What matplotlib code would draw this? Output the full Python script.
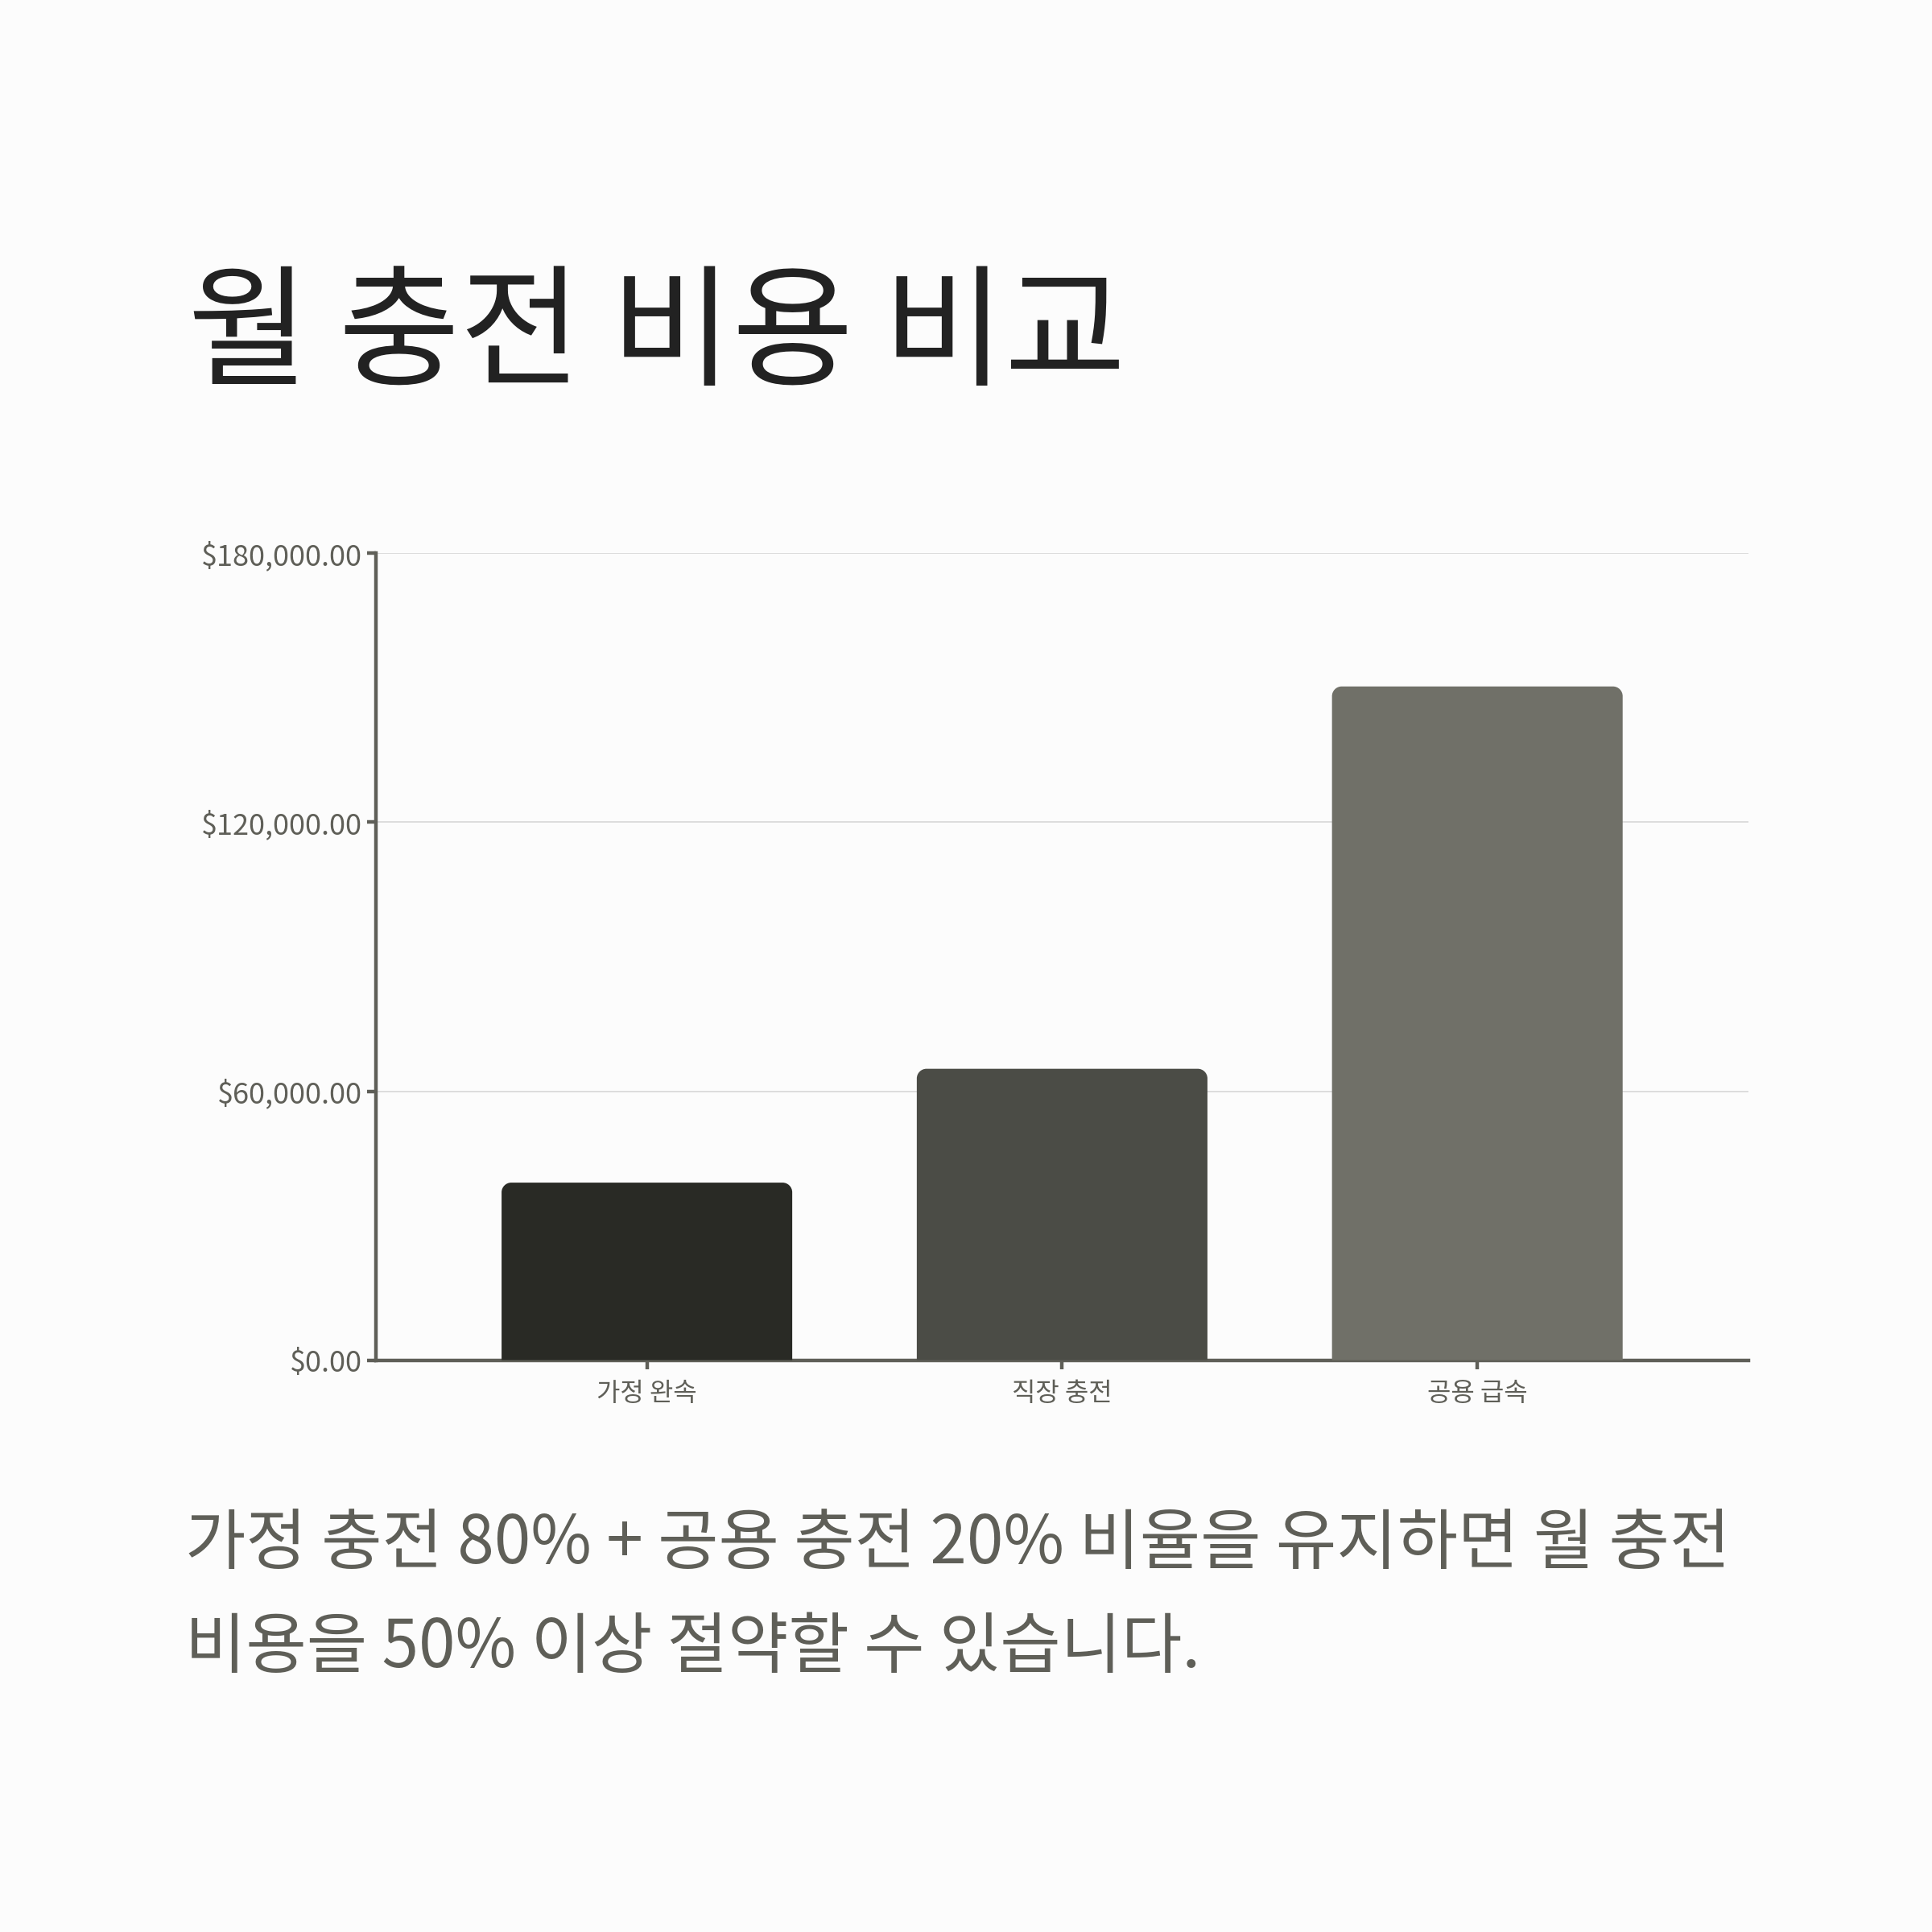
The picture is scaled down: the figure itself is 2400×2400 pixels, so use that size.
import matplotlib
matplotlib.use("Agg")
import matplotlib.pyplot as plt
from matplotlib.patches import PathPatch
from matplotlib.path import Path
from matplotlib.ticker import FuncFormatter

plt.rcParams['font.family'] = ['Noto Sans CJK KR', 'DejaVu Sans']

# data
categories = ['가정 완속', '직장 충전', '공용 급속']
costs = [39600, 65000, 150300]
bar_colors = ['#292a25', '#4b4c46', '#707068']
y_ticks = [0, 60000, 120000, 180000]

title = '월 충전 비용 비교'
note_lines = ['가정 충전 80% + 공용 충전 20% 비율을 유지하면 월 충전',
              '비용을 50% 이상 절약할 수 있습니다.']

BG = '#fcfcfc'
AXIS = '#5f5f58'
TEXT = '#5f5f58'

fig = plt.figure(figsize=(12, 12), dpi=200, facecolor=BG)
ax = fig.add_axes([0.1945, 0.296, 0.7105, 0.4176], facecolor=BG)

bars = ax.bar(range(len(categories)), costs, width=0.7, color=bar_colors, zorder=3)
ax.set_xlim(-0.653, 2.653)
ax.set_ylim(0, 180000)


def rounded_top(rect, rad_px=12):
    # replace a plain bar by one with rounded top corners
    x0, w, h = rect.get_x(), rect.get_width(), rect.get_height()
    inv = ax.transData.inverted()
    p0 = inv.transform((0, 0))
    p1 = inv.transform((rad_px, rad_px))
    rx, ry = p1[0] - p0[0], p1[1] - p0[1]
    k = 0.55
    verts = [(x0, 0), (x0, h - ry),
             (x0, h - ry + k * ry), (x0 + rx - k * rx, h), (x0 + rx, h),
             (x0 + w - rx, h),
             (x0 + w - rx + k * rx, h), (x0 + w, h - ry + k * ry), (x0 + w, h - ry),
             (x0 + w, 0), (x0, 0)]
    codes = [Path.MOVETO, Path.LINETO,
             Path.CURVE4, Path.CURVE4, Path.CURVE4,
             Path.LINETO,
             Path.CURVE4, Path.CURVE4, Path.CURVE4,
             Path.LINETO, Path.CLOSEPOLY]
    return PathPatch(Path(verts, codes), facecolor=rect.get_facecolor(),
                     edgecolor='none', zorder=3)


for rect in bars:
    rect.set_visible(False)
    ax.add_patch(rounded_top(rect))

ax.set_yticks(y_ticks)
ax.yaxis.set_major_formatter(FuncFormatter(lambda v, _: f'${v:,.2f}'))
ax.set_xticks(range(len(categories)))
ax.set_xticklabels(categories)

ax.grid(axis='y', color='#dddddd', linewidth=0.7, zorder=0)
ax.set_axisbelow(True)

for side in ['top', 'right']:
    ax.spines[side].set_visible(False)
for side in ['left', 'bottom']:
    ax.spines[side].set_color(AXIS)
    ax.spines[side].set_linewidth(1.6)

ax.tick_params(axis='y', colors=AXIS, labelcolor=TEXT, labelsize=13,
               length=4, width=1.6, pad=2)
ax.tick_params(axis='x', colors=AXIS, labelcolor=TEXT, labelsize=11.5,
               length=4, width=1.6, pad=5)

fig.text(0.097, 0.806, title, fontsize=59, color='#222222',
         ha='left', va='baseline')
fig.text(0.096, 0.191, note_lines[0], fontsize=29.5, color=TEXT,
         ha='left', va='baseline')
fig.text(0.096, 0.137, note_lines[1], fontsize=29.5, color=TEXT,
         ha='left', va='baseline')

fig.savefig('out.png', dpi=200, facecolor=BG)
